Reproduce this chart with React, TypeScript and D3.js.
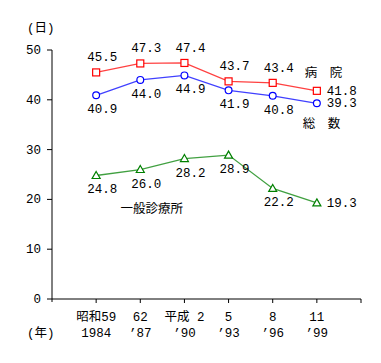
import React, {useEffect, useRef} from 'react';
import * as d3 from 'd3';

const eraLabels = ['昭和59', '62', '平成 2', '5', '8', '11'];
const yearLabels = ['1984', '’87', '’90', '’93', '’96', '’99'];

const hospital = [45.5, 47.3, 47.4, 43.7, 43.4, 41.8];
const total = [40.9, 44.0, 44.9, 41.9, 40.8, 39.3];
const clinic = [24.8, 26.0, 28.2, 28.9, 22.2, 19.3];

const yTicks = [0, 10, 20, 30, 40, 50];

const FONT = '"Liberation Mono", "Noto Sans CJK JP", monospace';

const App = () => {
    const ref = useRef<SVGSVGElement>(null);

    useEffect(() => {
        const svg = d3.select(ref.current);
        svg.selectAll('*').remove();

        const x = d3.scaleLinear().domain([0, 7]).range([52, 361]);
        const y = d3.scaleLinear().domain([0, 50]).range([299, 50]);
        const idx = d3.range(hospital.length);

        const g = svg.append('g')
            .attr('font-family', FONT)
            .attr('font-size', 12.5)
            .attr('fill', '#000');

        // y axis
        g.append('line')
            .attr('x1', x(0)).attr('x2', x(0))
            .attr('y1', y(50)).attr('y2', y(0) + 3)
            .attr('stroke', '#000');
        yTicks.forEach(t => {
            g.append('line')
                .attr('x1', x(0) - 5).attr('x2', x(0))
                .attr('y1', y(t)).attr('y2', y(t))
                .attr('stroke', '#000');
            g.append('text')
                .attr('x', x(0) - 11).attr('y', y(t) + 4)
                .attr('text-anchor', 'end')
                .text(t);
        });

        // x axis
        g.append('line')
            .attr('x1', x(0)).attr('x2', x(7))
            .attr('y1', y(0)).attr('y2', y(0))
            .attr('stroke', '#000');
        d3.range(1, 8).forEach(i => {
            g.append('line')
                .attr('x1', x(i)).attr('x2', x(i))
                .attr('y1', y(0)).attr('y2', y(0) + 4)
                .attr('stroke', '#000');
        });
        idx.forEach(i => {
            g.append('text')
                .attr('x', x(i + 1)).attr('y', 321)
                .attr('text-anchor', 'middle')
                .text(eraLabels[i]);
            g.append('text')
                .attr('x', x(i + 1)).attr('y', 337)
                .attr('text-anchor', 'middle')
                .text(yearLabels[i]);
        });

        g.append('text').attr('x', 27).attr('y', 32).text('(日)');
        g.append('text').attr('x', 27).attr('y', 337).text('(年)');

        const line = d3.line<number>()
            .x((d, i) => x(i + 1))
            .y(d => y(d));

        const series = [
            {data: hospital, color: '#ff0000', shape: 'square', below: false},
            {data: total, color: '#0000ff', shape: 'circle', below: true},
            {data: clinic, color: '#008000', shape: 'triangle', below: true},
        ];

        series.forEach(s => {
            g.append('path')
                .datum(s.data)
                .attr('d', line)
                .attr('fill', 'none')
                .attr('stroke', s.color)
                .attr('stroke-width', 1.3)
                .attr('stroke-opacity', 0.75);

            s.data.forEach((v, i) => {
                const cx = x(i + 1), cy = y(v);
                if (s.shape === 'square') {
                    g.append('rect')
                        .attr('x', cx - 3.5).attr('y', cy - 3.5)
                        .attr('width', 7).attr('height', 7)
                        .attr('fill', '#fff').attr('stroke', s.color).attr('stroke-width', 1.2);
                } else if (s.shape === 'circle') {
                    g.append('circle')
                        .attr('cx', cx).attr('cy', cy).attr('r', 3.4)
                        .attr('fill', '#fff').attr('stroke', s.color).attr('stroke-width', 1.2);
                } else {
                    g.append('path')
                        .attr('d', `M${cx},${cy - 4}L${cx + 4},${cy + 3}L${cx - 4},${cy + 3}Z`)
                        .attr('fill', '#fff').attr('stroke', s.color).attr('stroke-width', 1.2);
                }

                const last = i === s.data.length - 1;
                const label = g.append('text').text(v.toFixed(1));
                if (last) {
                    label.attr('x', cx + 10).attr('y', cy + 4);
                } else {
                    label.attr('x', cx + 6)
                        .attr('y', s.below ? cy + 18 : cy - 11)
                        .attr('text-anchor', 'middle');
                }
            });
        });

        // series names
        g.append('text').attr('x', x(6) - 12).attr('y', y(44.5)).text('病　院');
        g.append('text').attr('x', x(6) - 14).attr('y', y(34.3)).text('総　数');
        g.append('text').attr('x', x(1.55)).attr('y', y(17.2)).text('一般診療所');
    }, []);

    return (
        <div>
            <svg ref={ref} width={381} height={363} style={{display: 'block', margin: '-8px'}}/>
        </div>
    );
};

export default App;
